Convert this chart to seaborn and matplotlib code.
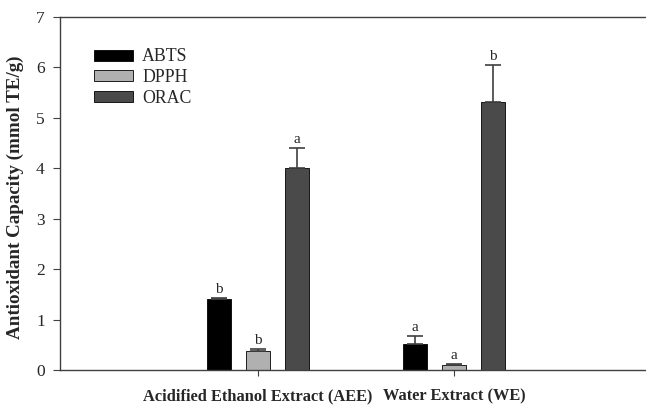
import matplotlib
matplotlib.use("Agg")
import matplotlib.pyplot as plt
import seaborn as sns
import pandas as pd

# data
extracts = ["Acidified Ethanol Extract (AEE)", "Water Extract (WE)"]
assays = ["ABTS", "DPPH", "ORAC"]
abts = [1.41, 0.51]
dpph = [0.38, 0.09]
orac = [4.00, 5.31]
abts_err = [0.01, 0.16]
dpph_err = [0.03, 0.03]
orac_err = [0.40, 0.73]
abts_lbl = ["b", "a"]
dpph_lbl = ["b", "a"]
orac_lbl = ["a", "b"]

rows = []
for name, vals, errs, lbls in [("ABTS", abts, abts_err, abts_lbl),
                               ("DPPH", dpph, dpph_err, dpph_lbl),
                               ("ORAC", orac, orac_err, orac_lbl)]:
    for ext, v, e, l in zip(extracts, vals, errs, lbls):
        rows.append({"Extract": ext, "Assay": name, "Value": v, "Err": e, "Letter": l})
df = pd.DataFrame(rows)

sns.set_style("white")
plt.rcParams['font.family'] = ['Liberation Serif', 'DejaVu Serif']

fig = plt.figure(figsize=(6.46, 4.05), dpi=100)
ax = fig.add_axes([0.093, 0.0864, 0.907, 0.8716])

palette = {"ABTS": "#000000", "DPPH": "#b0b0b0", "ORAC": "#4a4a4a"}
sns.barplot(data=df, x="Extract", y="Value", hue="Assay", hue_order=assays,
            order=extracts, palette=palette, width=0.6, gap=0.39,
            edgecolor="black", linewidth=0.6, errorbar=None, ax=ax)

# error bars (upward only) and significance letters
for cont, name in zip(ax.containers, assays):
    sub = df[df["Assay"] == name].set_index("Extract").loc[extracts]
    for bar, (_, r) in zip(cont, sub.iterrows()):
        xc = bar.get_x() + bar.get_width() / 2
        top = bar.get_height()
        ax.errorbar(xc, top, yerr=[[0], [r["Err"]]], fmt="none",
                    ecolor="#404040", elinewidth=1.2, capsize=5.5, capthick=1.2)
        ax.text(xc, top + r["Err"] + 0.04, r["Letter"], ha="center", va="bottom",
                fontsize=11)

ax.set_xlim(-1.01, 1.98)
ax.set_ylim(0, 7)
ax.set_yticks(range(0, 8))
ax.set_ylabel("Antioxidant Capacity (mmol TE/g)", fontsize=13.7, fontweight="bold")
ax.yaxis.set_label_coords(-0.0615, 0.489)
ax.set_xlabel("")
for lab in ax.get_xticklabels():
    lab.set_fontweight("bold")
    lab.set_fontsize(11.8)
ax.tick_params(axis="x", direction="out", length=4, width=0.8, pad=9,
               bottom=True, color="#404040")
ax.tick_params(axis="y", direction="out", length=5, width=0.8, labelsize=12.5,
               pad=6, left=True, color="#404040")

for s in ["left", "top", "bottom"]:
    ax.spines[s].set_color("#404040")
    ax.spines[s].set_linewidth(1.0)
ax.spines["right"].set_visible(False)

leg = ax.legend(loc="upper left", bbox_to_anchor=(0.046, 0.931), frameon=False,
                fontsize=12.8, handlelength=2.2, handleheight=0.56,
                labelspacing=0.2, handletextpad=0.5, borderaxespad=0)
for h in leg.legend_handles:
    h.set_edgecolor("black")
    h.set_linewidth(0.6)

fig.savefig("out.png", dpi=100)
